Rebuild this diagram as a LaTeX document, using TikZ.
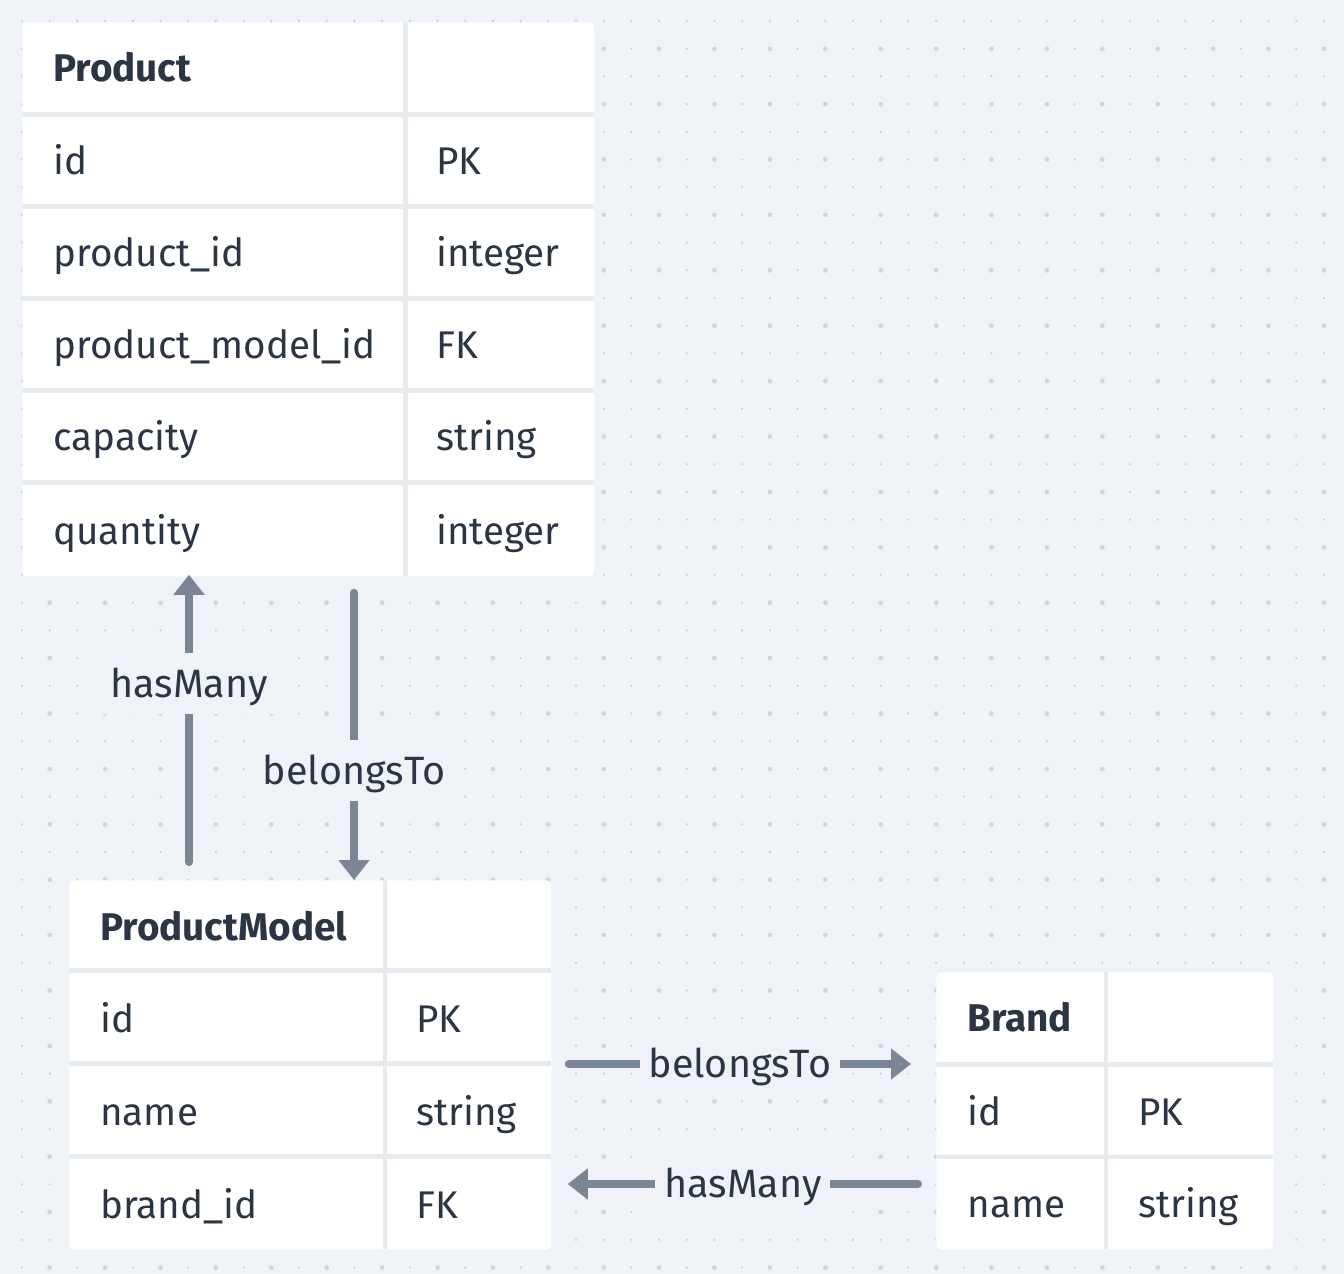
\documentclass[tikz,border=0pt]{standalone}
\usepackage{fontspec}
\setmainfont{Fira Sans}
\usetikzlibrary{arrows.meta}
\definecolor{canvas}{HTML}{EFF3F7}
\definecolor{dotsm}{HTML}{C6CDD6}
\definecolor{dotlg}{HTML}{CFD5DE}
\definecolor{rule}{HTML}{E7EBF0}
\definecolor{ink}{HTML}{2B3544}
\definecolor{wire}{HTML}{7B8593}
\tikzset{every picture/.style={line width=0.75pt}}

\begin{document}
\begin{tikzpicture}[x=1pt, y=-1pt, >={Triangle[width=30pt,length=20pt]},
  card/.style={rectangle, rounded corners=5pt, fill=white, anchor=north west, inner sep=0pt},
  sepline/.style={rule, line width=4.5pt},
  cell/.style={anchor=base west, inner sep=0pt, text=ink, font=\fontsize{38.6}{44}\selectfont},
  head/.style={cell, font=\fontsize{38.6}{44}\selectfont\bfseries},
  rel/.style={->, wire, line width=8pt, line cap=round},
  lbl/.style={fill=canvas, text=ink, inner xsep=9pt, inner ysep=11pt, text height=33pt, text depth=6pt, font=\fontsize{39.5}{44}\selectfont}]
  \useasboundingbox[fill=canvas] (0,0) rectangle (1344,1274);
  % dotted canvas
  \foreach \i in {0,...,47} \foreach \j in {0,...,45} \fill[dotsm] (22+27.7*\i, 21+27.7*\j) circle (1.2pt);
  \foreach \i in {0,...,23} \foreach \j in {0,...,22} \fill[dotlg] (49.7+55.4*\i, 48.7+55.4*\j) circle (2.4pt);

  % Product
  \node[card, minimum width=572pt, minimum height=554pt] (product) at (22,22) {};
  \draw[sepline] (405.5,22) -- (405.5,576);
  \foreach \y in {114.5,206.5,298.5,390.5,482.5} \draw[sepline] (22,\y) -- (594,\y);
  \node[head] (p-title) at (53,81) {Product};
  \node[cell] (p-id)    at (53,174)  {id};              \node[cell] (p-id-t)    at (436,174) {PK};
  \node[cell] (p-pid)   at (53,266)  {product\_id};       \node[cell] (p-pid-t)   at (436,266) {integer};
  \node[cell] (p-pmid)  at (53,358)  {product\_model\_id}; \node[cell] (p-pmid-t)  at (436,358) {FK};
  \node[cell] (p-cap)   at (53,450)  {capacity};        \node[cell] (p-cap-t)   at (436,450) {string};
  \node[cell] (p-qty)   at (53,544)  {quantity};        \node[cell] (p-qty-t)   at (436,544) {integer};

  % ProductModel
  \node[card, minimum width=482pt, minimum height=369pt] (pmodel) at (69,880) {};
  \draw[sepline] (385,880) -- (385,1249);
  \foreach \y in {970.5,1063.5,1156.5} \draw[sepline] (69,\y) -- (551,\y);
  \node[head] (m-title) at (100,940) {ProductModel};
  \node[cell] (m-id)    at (100,1032) {id};       \node[cell] (m-id-t)    at (416,1032) {PK};
  \node[cell] (m-name)  at (100,1125) {name};     \node[cell] (m-name-t)  at (416,1125) {string};
  \node[cell] (m-bid)   at (100,1218) {brand\_id}; \node[cell] (m-bid-t)   at (416,1218) {FK};

  % Brand
  \node[card, minimum width=337pt, minimum height=277pt] (brand) at (936,972) {};
  \draw[sepline] (1106,972) -- (1106,1249);
  \foreach \y in {1064.5,1157} \draw[sepline] (936,\y) -- (1273,\y);
  \node[head] (b-title) at (967,1031) {Brand};
  \node[cell] (b-id)    at (967,1125) {id};   \node[cell] (b-id-t)   at (1138,1125) {PK};
  \node[cell] (b-name)  at (967,1217) {name}; \node[cell] (b-name-t) at (1138,1217) {string};

  % relations
  \draw[rel] ([xshift=120pt, yshift=18pt]pmodel.north west) -- node[lbl, pos=0.62] (r-hm1) {hasMany} ([xshift=167pt, yshift=2pt]product.south west);
  \draw[rel] ([xshift=332pt, yshift=-16pt]product.south west) -- node[lbl, pos=0.62] (r-bt1) {belongsTo} ([xshift=285pt]pmodel.north west);
  \draw[rel] ([xshift=17pt, yshift=-184pt]pmodel.north east) -- node[lbl, pos=0.5] (r-bt2) {belongsTo} ([xshift=-25pt, yshift=-92pt]brand.north west);
  \draw[rel] ([xshift=-18pt, yshift=-212pt]brand.north west) -- node[lbl, pos=0.5] (r-hm2) {hasMany} ([xshift=16pt, yshift=-304pt]pmodel.north east);
\end{tikzpicture}
\end{document}
